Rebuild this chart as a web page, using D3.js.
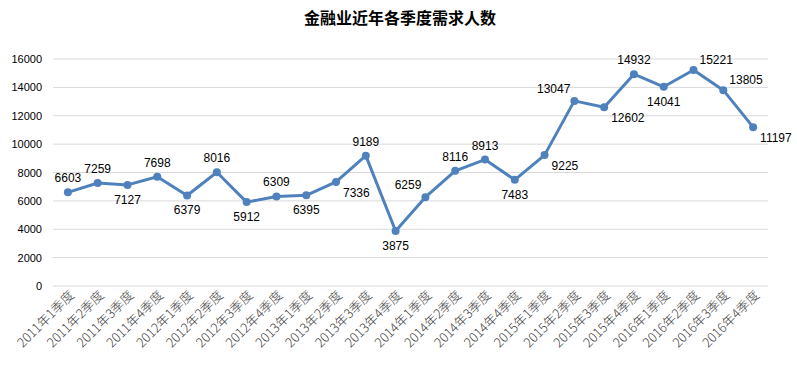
<!DOCTYPE html>
<html>
<head>
<meta charset="utf-8">
<script src="https://cdn.jsdelivr.net/npm/d3@7"></script>
<style>
  body { margin: 0; background: #fff; }
</style>
</head>
<body>
<div id="chart"></div>
<script>
var quarters = ["2011年1季度","2011年2季度","2011年3季度","2011年4季度",
    "2012年1季度","2012年2季度","2012年3季度","2012年4季度",
    "2013年1季度","2013年2季度","2013年3季度","2013年4季度",
    "2014年1季度","2014年2季度","2014年3季度","2014年4季度",
    "2015年1季度","2015年2季度","2015年3季度","2015年4季度",
    "2016年1季度","2016年2季度","2016年3季度","2016年4季度"];
var demand = [6603, 7259, 7127, 7698, 6379, 8016, 5912, 6309, 6395, 7336, 9189, 3875,
    6259, 8116, 8913, 7483, 9225, 13047, 12602, 14932, 14041, 15221, 13805, 11197];
// where each value label sits relative to its point
var labelPos = ["a","a","b","a","b","a","b","a","b","br","a","b",
    "al","a","a","b","br","al","br","a","b","ar","ar","br"];
var yTicks = [0, 2000, 4000, 6000, 8000, 10000, 12000, 14000, 16000];

var width = 797, height = 373;
var margin = {left: 53, right: 29, top: 59, bottom: 87};

var svg = d3.select("#chart").append("svg")
    .attr("width", width)
    .attr("height", height);

svg.append("text")
    .attr("x", 400)
    .attr("y", 24)
    .attr("text-anchor", "middle")
    .style("font-family", "'Noto Sans CJK SC', sans-serif")
    .style("font-weight", "bold")
    .style("font-size", "16px")
    .text("金融业近年各季度需求人数");

var x = d3.scaleBand()
    .domain(quarters)
    .range([margin.left, width - margin.right]);
var y = d3.scaleLinear()
    .domain([0, 16000])
    .range([height - margin.bottom, margin.top]);

// grid lines
svg.append("g")
    .selectAll("line")
    .data(yTicks)
    .enter()
    .append("line")
    .attr("x1", margin.left)
    .attr("x2", width - margin.right)
    .attr("y1", function (d) { return y(d); })
    .attr("y2", function (d) { return y(d); })
    .attr("stroke", "#d9d9d9")
    .attr("stroke-width", 1);

// Y axis
var yAxis = svg.append("g")
    .attr("transform", "translate(" + margin.left + ",0)")
    .call(d3.axisLeft(y).tickValues(yTicks).tickFormat(d3.format("d")).tickSize(0).tickPadding(11));
yAxis.select(".domain").remove();
yAxis.selectAll("text")
    .style("font-family", "'Liberation Sans', Arial, sans-serif")
    .style("font-size", "11px")
    .attr("fill", "#000");

// X axis
var xAxis = svg.append("g")
    .attr("transform", "translate(0," + (height - margin.bottom) + ")")
    .call(d3.axisBottom(x).tickSize(0).tickPadding(0));
xAxis.select(".domain").remove();
xAxis.selectAll("text")
    .style("font-family", "'Noto Sans CJK SC', sans-serif")
    .style("font-size", "13px")
    .style("font-weight", "300")
    .attr("fill", "#404040")
    .attr("text-anchor", "end")
    .attr("dy", "0")
    .attr("transform", "translate(7,10) rotate(-45)");

// the line
var line = d3.line()
    .x(function (d, i) { return x(quarters[i]) + x.bandwidth() / 2; })
    .y(function (d) { return y(d); });

svg.append("path")
    .datum(demand)
    .attr("fill", "none")
    .attr("stroke", "#4f81bd")
    .attr("stroke-width", 3)
    .attr("stroke-linejoin", "round")
    .attr("d", line);

svg.append("g")
    .selectAll("circle")
    .data(demand)
    .enter()
    .append("circle")
    .attr("cx", function (d, i) { return x(quarters[i]) + x.bandwidth() / 2; })
    .attr("cy", function (d) { return y(d); })
    .attr("r", 4)
    .attr("fill", "#4f81bd");

// value labels
var offsets = {
    a: [0, -10, "middle"],
    b: [0, 19, "middle"],
    br: [7, 15, "start"],
    ar: [6, -6, "start"],
    al: [-4, -8, "end"]
};
svg.append("g")
    .selectAll("text")
    .data(demand)
    .enter()
    .append("text")
    .attr("x", function (d, i) { return x(quarters[i]) + x.bandwidth() / 2 + offsets[labelPos[i]][0]; })
    .attr("y", function (d, i) { return y(d) + offsets[labelPos[i]][1]; })
    .attr("text-anchor", function (d, i) { return offsets[labelPos[i]][2]; })
    .style("font-family", "'Liberation Sans', Arial, sans-serif")
    .style("font-size", "12px")
    .attr("fill", "#000")
    .text(function (d) { return d; });
</script>
</body>
</html>
